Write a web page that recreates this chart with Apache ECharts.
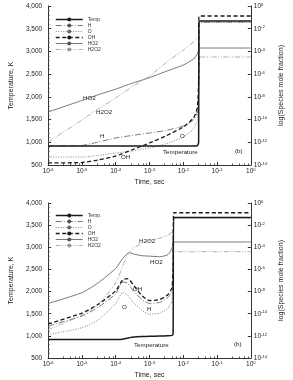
<!DOCTYPE html>
<html>
<head>
<meta charset="utf-8">
<script src="https://cdn.jsdelivr.net/npm/echarts@6/dist/echarts.min.js"></script>
<style>
  html, body { margin: 0; padding: 0; background: #fff; }
  #chart { width: 293px; height: 380px; }
</style>
</head>
<body>
<div id="chart"></div>
<script>
// time points (s) for each panel
const timeTop = [1e-6, 1e-5, 3e-5, 1e-4, 3e-4, 1e-3, 3e-3, 1e-2, 2e-2, 2.6e-2, 2.85e-2, 2.9e-2, 3e-2, 1e-1, 1];
const timeBot = [1e-6, 1e-5, 3e-5, 1e-4, 1.6e-4, 2.2e-4, 2.6e-4, 3.5e-4, 6e-4, 1e-3, 2e-3, 3.5e-3, 4.6e-3, 5e-3, 5.2e-3, 1e-2, 1e-1, 1];

// temperature, K
const tempTop = [920, 920, 920, 920, 920, 920, 920, 920, 920, 925, 1000, 3600, 3670, 3670, 3670];
const tempBot = [920, 920, 920, 920, 925, 945, 960, 975, 985, 990, 995, 1000, 1010, 1050, 3670, 3670, 3670, 3670];

// species mole fractions, stored as log10
const hTop    = [-12.33, -12.28, -11.98, -11.62, -11.4, -11.18, -10.96, -10.57, -10.04, -9.33, -7.4, -1.45, -1.41, -1.41, -1.41];
const oTop    = [-13.3, -13.3, -13.16, -12.94, -12.77, -12.5, -12.15, -11.54, -10.83, -10.04, -7.84, -1.5, -1.45, -1.45, -1.45];
const ohTop   = [-13.82, -13.78, -13.56, -13.21, -12.68, -12.06, -11.45, -10.65, -9.86, -8.98, -6.52, -0.95, -0.88, -0.88, -0.88];
const ho2Top  = [-9.33, -8.32, -7.82, -7.32, -6.81, -6.31, -5.77, -5.2, -4.67, -4.23, -3.88, -3.7, -3.7, -3.7, -3.7];
const h2o2Top = [-11.98, -10.04, -9.07, -8.1, -7.13, -6.17, -5.02, -3.88, -3.17, -2.82, -2.64, -4.49, -4.49, -4.49, -4.49];

const hBot    = [-11.1, -10.21, -9.42, -8.19, -7.13, -7.22, -7.49, -8.01, -8.72, -9.07, -8.98, -8.54, -8.01, -6.34, -1.32, -1.32, -1.32, -1.32];
const oBot    = [-11.89, -11.27, -10.57, -9.07, -8.1, -8.28, -8.54, -9.07, -9.69, -10.04, -9.95, -9.51, -8.89, -7.22, -1.36, -1.36, -1.36, -1.36];
const ohBot   = [-10.92, -9.95, -9.16, -7.93, -6.96, -6.83, -6.96, -7.49, -8.37, -8.81, -8.72, -8.28, -7.66, -5.9, -0.88, -0.88, -0.88, -0.88];
const ho2Bot  = [-9.07, -8.1, -7.22, -5.9, -5.02, -4.58, -4.49, -4.62, -4.76, -4.8, -4.85, -4.67, -4.14, -3.7, -3.52, -3.52, -3.52, -3.52];
const h2o2Bot = [-11.45, -10.13, -9.16, -7.22, -5.73, -4.67, -4.4, -4.05, -3.61, -3.39, -3.17, -2.91, -2.64, -2.38, -4.4, -4.4, -4.4, -4.4];

const names = ['Temp.', 'H', 'O', 'OH', 'HO2', 'H2O2'];

const FONT = 'Liberation Sans, Arial, sans-serif';
const styles = {
  'Temp.': { color: '#1a1a1a', width: 1.5, type: 'solid' },
  'H':     { color: '#555', width: 0.8, type: [6, 2, 1, 2] },
  'O':     { color: '#666', width: 0.8, type: [1, 1.5] },
  'OH':    { color: '#1a1a1a', width: 1.3, type: [4, 2.5] },
  'HO2':   { color: '#555', width: 0.8, type: 'solid' },
  'H2O2':  { color: '#999', width: 0.8, type: [5, 1.5, 1, 1.5, 1, 1.5] }
};

const pairs = (t, v) => t.map((x, i) => [x, v[i]]);
const logPairs = (t, v) => t.map((x, i) => [x, Math.pow(10, v[i])]);

function sup(v) {
  const e = Math.round(Math.log10(v));
  return '{b|10}{s|' + e + '}';
}
const rich = {
  b: { fontSize: 6.5, fontFamily: FONT, color: '#222' },
  s: { fontSize: 4.2, fontFamily: FONT, color: '#222', verticalAlign: 'top', padding: [0, 0, 3, 0] }
};

function panelSeries(g, t, temp, h, o, oh, ho2, h2o2) {
  const sets = [pairs(t, temp), logPairs(t, h), logPairs(t, o), logPairs(t, oh), logPairs(t, ho2), logPairs(t, h2o2)];
  return names.map((n, i) => ({
    name: n,
    type: 'line',
    xAxisIndex: g,
    yAxisIndex: g * 2 + (i === 0 ? 0 : 1),
    data: sets[i],
    symbol: 'none',
    smooth: 0.2,
    lineStyle: styles[n],
    itemStyle: { color: styles[n].color },
    z: i === 0 ? 3 : 2
  }));
}

function xAxis(g) {
  return {
    type: 'log', gridIndex: g, min: 1e-6, max: 1, logBase: 10,
    name: 'Time, sec', nameLocation: 'middle', nameGap: 14,
    nameTextStyle: { fontSize: 7, fontFamily: FONT, color: '#222' },
    axisLine: { lineStyle: { color: '#333', width: 1 } },
    axisTick: { inside: true, length: 3, lineStyle: { color: '#333' } },
    minorTick: { show: true, splitNumber: 5, length: 1.5, lineStyle: { color: '#555' } },
    splitLine: { show: false },
    axisLabel: { margin: 3, formatter: sup, rich: rich }
  };
}
function yLeft(g) {
  return {
    type: 'value', gridIndex: g, min: 500, max: 4000, interval: 500, position: 'left',
    name: 'Temperature, K', nameLocation: 'middle', nameGap: 24,
    nameTextStyle: { fontSize: 7, fontFamily: FONT, color: '#222' },
    axisLine: { show: true, lineStyle: { color: '#333', width: 1 } },
    axisTick: { show: true, inside: true, length: 3, lineStyle: { color: '#333' } },
    minorTick: { show: true, splitNumber: 5, length: 1.5, lineStyle: { color: '#555' } },
    splitLine: { show: false },
    axisLabel: { margin: 6, fontSize: 6.5, fontFamily: FONT, color: '#222' }
  };
}
function yRight(g) {
  return {
    type: 'log', gridIndex: g, min: 1e-14, max: 1, logBase: 10, interval: 2, position: 'right',
    name: 'log(Species mole fraction)', nameLocation: 'middle', nameGap: 26, nameRotate: 90,
    nameTextStyle: { fontSize: 7, fontFamily: FONT, color: '#222' },
    axisLine: { show: true, lineStyle: { color: '#333', width: 1 } },
    axisTick: { show: true, inside: true, length: 3, lineStyle: { color: '#333' } },
    splitLine: { show: false },
    axisLabel: { margin: 3, formatter: sup, rich: rich }
  };
}

function legend(top) {
  return {
    data: names, orient: 'vertical', left: 55, top: top,
    itemWidth: 27, itemHeight: 5, itemGap: 1, padding: 0,
    lineStyle: { width: 'inherit' },
    textStyle: { fontSize: 5, fontFamily: FONT, color: '#333' }
  };
}

function label(x, y, text) {
  return { type: 'text', left: x, top: y, style: { text: text, fontSize: 6.2, fontFamily: FONT, fill: '#222' } };
}

const chart = echarts.init(document.getElementById('chart'), null, { renderer: 'canvas' });
chart.setOption({
  animation: false,
  backgroundColor: '#fff',
  grid: [
    { left: 35, right: 32, top: 6, height: 159 },
    { left: 35, right: 32, top: 203, height: 159 }
  ],
  legend: [legend(17), legend(213)],
  xAxis: [xAxis(0), xAxis(1)],
  yAxis: [yLeft(0), yRight(0), yLeft(1), yRight(1)],
  series: [].concat(
    panelSeries(0, timeTop, tempTop, hTop, oTop, ohTop, ho2Top, h2o2Top),
    panelSeries(1, timeBot, tempBot, hBot, oBot, ohBot, ho2Bot, h2o2Bot)
  ),
  graphic: [
    label(83, 95, 'HO2'), label(96, 109, 'H2O2'), label(100, 133, 'H'), label(121, 154, 'OH'),
    label(180, 133, 'O'), label(163, 149, 'Temperature'), label(235, 148, '(b)'),
    label(139, 238, 'H2O2'), label(150, 259, 'HO2'), label(133, 286, 'OH'), label(122, 304, 'O'),
    label(147, 306, 'H'), label(134, 342, 'Temperature'), label(234, 341, '(b)')
  ]
});
</script>
</body>
</html>
